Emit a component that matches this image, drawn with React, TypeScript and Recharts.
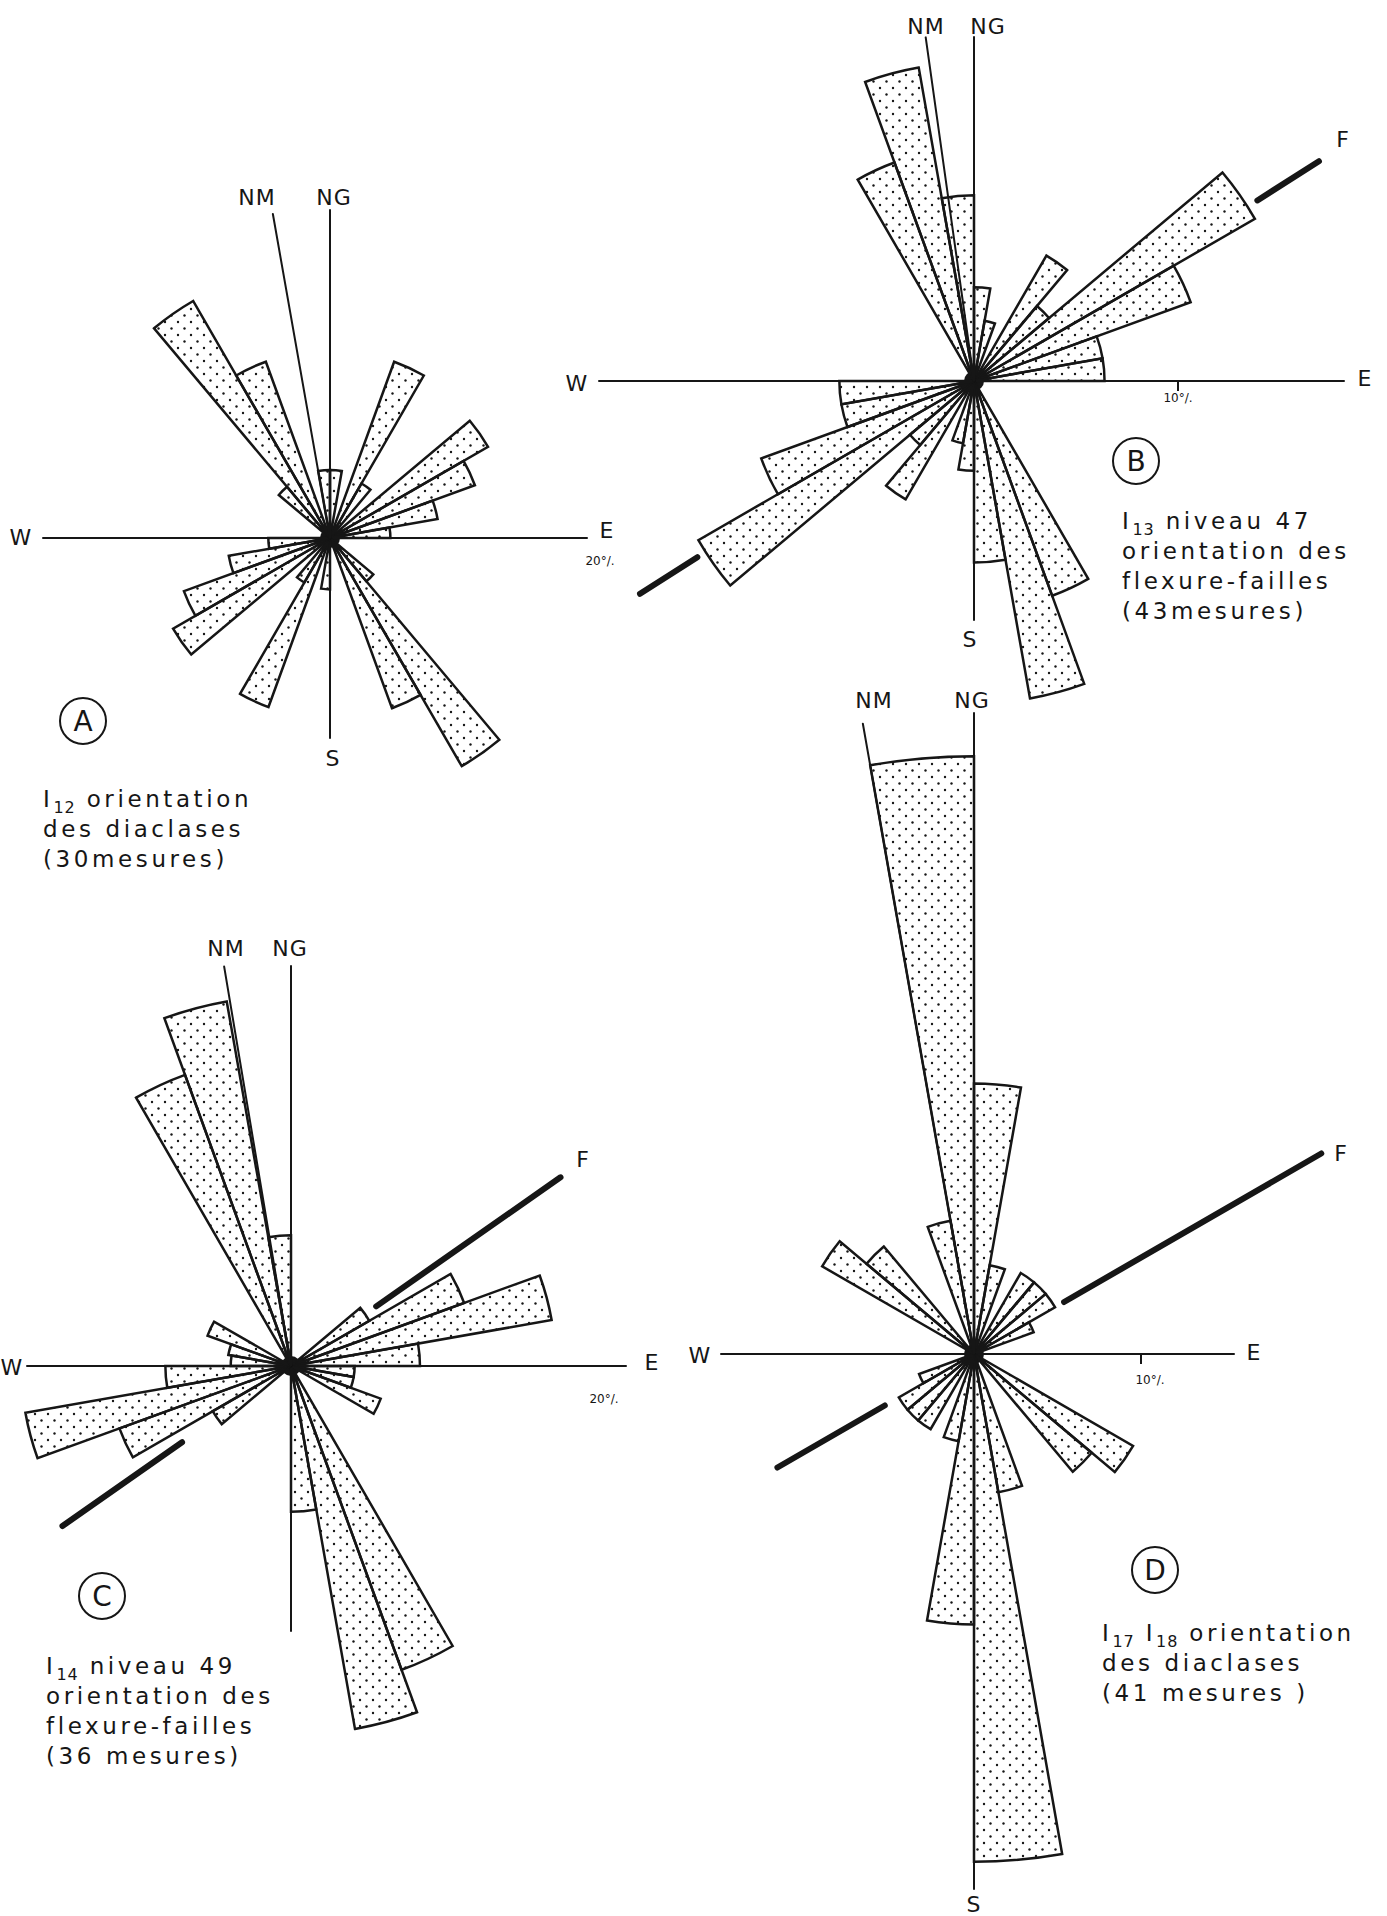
import { RadialBarChart, RadialBar, PolarAngleAxis, PolarRadiusAxis } from "recharts";

const PAGE_W = 1387;
const PAGE_H = 1916;
const MAX_PCT = 40;
const INK = "#161616";
const FONT = "'DejaVu Sans', 'Liberation Sans', sans-serif";

// 10° classes, clockwise from geographic north (NG)
const dirs = [
  "0", "10", "20", "30", "40", "50", "60", "70", "80", "90", "100", "110",
  "120", "130", "140", "150", "160", "170", "180", "190", "200", "210", "220", "230",
  "240", "250", "260", "270", "280", "290", "300", "310", "320", "330", "340", "350",
];

// frequency (%) per class
const roseA = [5.3, 0, 14.6, 4.9, 0, 14.2, 12.0, 8.5, 4.7, 0, 0, 0, 0, 4.4, 20.5, 14.1, 0, 0, 4.0, 0, 14.0, 4.0, 0, 14.1, 12.1, 8.0, 4.8, 0, 0, 0, 0, 5.2, 21.3, 14.6, 0, 5.3];
const roseB = [4.6, 3.0, 0, 7.1, 4.8, 15.9, 11.3, 6.4, 6.4, 0, 0, 0, 0, 0, 0, 11.2, 15.8, 8.9, 4.4, 3.1, 0, 6.7, 4.1, 15.6, 11.1, 6.6, 6.6, 0, 0, 0, 0, 0, 0, 11.4, 15.6, 9.1];
const roseC = [0, 0, 0, 0, 0, 5.4, 11.0, 15.8, 7.7, 3.8, 3.8, 5.7, 0, 0, 0, 19.3, 22.0, 8.7, 0, 0, 0, 0, 0, 5.4, 10.9, 16.1, 7.5, 3.6, 3.8, 5.3, 0, 0, 0, 18.5, 22.1, 7.8];
const roseD = [16.2, 5.4, 0, 5.6, 5.6, 5.6, 3.8, 0, 0, 0, 0, 0, 11.0, 9.2, 0, 0, 8.4, 30.4, 16.2, 5.3, 0, 5.2, 5.2, 5.2, 3.5, 0, 0, 0, 0, 0, 10.5, 8.4, 0, 0, 8.1, 35.8];

type Label = { t: string; x: number; y: number; small?: boolean };
type Fault = { bearing: number; ne: [number, number]; sw: [number, number] };
type RoseCfg = {
  id: string;
  values: number[];
  cx: number;
  cy: number;
  k: number; // px per %
  arms: [number, number, number, number]; // N, E, S, W
  nm: [number, number]; // bearing, length
  fault?: Fault;
  tick?: number; // % mark on the E arm
  labels: Label[];
  badge: { letter: string; x: number; y: number };
  caption: { x: number; y: number; lines: string[] };
};

const roses: RoseCfg[] = [
  {
    id: "a", values: roseA, cx: 330, cy: 538, k: 12.85,
    arms: [328, 257, 200, 287], nm: [350, 329],
    labels: [
      { t: "NM", x: 257, y: 205 }, { t: "NG", x: 334, y: 205 },
      { t: "W", x: 21, y: 545 }, { t: "E", x: 607, y: 538 },
      { t: "20°/.", x: 600, y: 565, small: true }, { t: "S", x: 333, y: 766 },
    ],
    badge: { letter: "A", x: 83, y: 721 },
    caption: { x: 43, y: 807, lines: ["I_{12} orientation", "des diaclases", "(30mesures)"] },
  },
  {
    id: "b", values: roseB, cx: 974, cy: 381, k: 20.4,
    arms: [344, 370, 239, 375], nm: [352, 347],
    fault: { bearing: 57.5, ne: [336, 409], sw: [328, 396] }, tick: 10,
    labels: [
      { t: "NM", x: 926, y: 34 }, { t: "NG", x: 988, y: 34 }, { t: "F", x: 1343, y: 147 },
      { t: "W", x: 577, y: 391 }, { t: "E", x: 1365, y: 386 },
      { t: "10°/.", x: 1178, y: 402, small: true }, { t: "S", x: 970, y: 647 },
    ],
    badge: { letter: "B", x: 1136, y: 461 },
    caption: { x: 1122, y: 529, lines: ["I_{13} niveau 47", "orientation des", "flexure-failles", "(43mesures)"] },
  },
  {
    id: "c", values: roseC, cx: 291, cy: 1366, k: 16.75,
    arms: [400, 335, 265, 264], nm: [350.5, 405],
    fault: { bearing: 55, ne: [104, 329], sw: [133, 279] },
    labels: [
      { t: "NM", x: 226, y: 956 }, { t: "NG", x: 290, y: 956 }, { t: "F", x: 583, y: 1167 },
      { t: "W", x: 12, y: 1375 }, { t: "E", x: 652, y: 1370 },
      { t: "20°/.", x: 604, y: 1403, small: true },
    ],
    badge: { letter: "C", x: 102, y: 1596 },
    caption: { x: 46, y: 1674, lines: ["I_{14} niveau 49", "orientation des", "flexure-failles", "(36 mesures)"] },
  },
  {
    id: "d", values: roseD, cx: 974, cy: 1354, k: 16.7,
    arms: [641, 260, 535, 253], nm: [350, 640],
    fault: { bearing: 60, ne: [104, 401], sw: [103, 227] }, tick: 10,
    labels: [
      { t: "NM", x: 874, y: 708 }, { t: "NG", x: 972, y: 708 }, { t: "F", x: 1341, y: 1161 },
      { t: "W", x: 700, y: 1363 }, { t: "E", x: 1254, y: 1360 },
      { t: "10°/.", x: 1150, y: 1384, small: true }, { t: "S", x: 974, y: 1912 },
    ],
    badge: { letter: "D", x: 1155, y: 1570 },
    caption: { x: 1102, y: 1641, lines: ["I_{17} I_{18} orientation", "des diaclases", "(41 mesures )"] },
  },
];

function CaptionLine({ text, x, y }: { text: string; x: number; y: number }) {
  const parts = text.split(/(_\{[^}]*\})/).filter(Boolean);
  return (
    <text x={x} y={y} fontFamily={FONT} fontSize={23} letterSpacing={3.6} fill={INK}>
      {parts.map((p, i) =>
        p.startsWith("_{") ? (
          <tspan key={i} fontSize={16} letterSpacing={1} dy={6}>{p.slice(2, -1)}</tspan>
        ) : (
          <tspan key={i} dy={i > 0 && parts[i - 1].startsWith("_{") ? -6 : 0}>{p}</tspan>
        )
      )}
    </text>
  );
}

function Rose({ cfg }: { cfg: RoseCfg }) {
  const data = dirs.map((dir, i) => ({ dir, pct: cfg.values[i] }));
  const at = (bearing: number, r: number) => {
    const a = (bearing * Math.PI) / 180;
    return { x: cfg.cx + r * Math.sin(a), y: cfg.cy - r * Math.cos(a) };
  };
  const seg = (bearing: number, r0: number, r1: number, w: number, key: string) => {
    const p = at(bearing, r0);
    const q = at(bearing, r1);
    return <line key={key} x1={p.x} y1={p.y} x2={q.x} y2={q.y} stroke={INK} strokeWidth={w} strokeLinecap="round" />;
  };
  const tickX = cfg.tick ? cfg.cx + cfg.tick * cfg.k : 0;

  return (
    <div style={{ position: "absolute", left: 0, top: 0 }}>
      {/* band scale puts class "0" on 80°..90° (i.e. bearing 0–10°) with this range */}
      <RadialBarChart
        width={PAGE_W} height={PAGE_H} data={data} layout="centric"
        cx={cfg.cx} cy={cfg.cy} innerRadius={0} outerRadius={MAX_PCT * cfg.k}
        startAngle={80} endAngle={-280} barCategoryGap={0} barGap={0}
        margin={{ top: 0, right: 0, bottom: 0, left: 0 }}
      >
        <defs>
          <pattern id={`dots-${cfg.id}`} width={13} height={13} patternUnits="userSpaceOnUse">
            <circle cx={2.5} cy={3.5} r={1.2} fill={INK} />
            <circle cx={9} cy={10} r={1.2} fill={INK} />
          </pattern>
        </defs>
        <PolarAngleAxis type="category" dataKey="dir" tick={false} axisLine={false} tickLine={false} />
        <PolarRadiusAxis type="number" domain={[0, MAX_PCT]} tick={false} axisLine={false} tickLine={false} />
        {seg(0, 0, cfg.arms[0], 2, "n")}
        {seg(90, 0, cfg.arms[1], 2, "e")}
        {seg(180, 0, cfg.arms[2], 2, "s")}
        {seg(270, 0, cfg.arms[3], 2, "w")}
        {seg(cfg.nm[0], 0, cfg.nm[1], 2, "nm")}
        <RadialBar dataKey="pct" fill={`url(#dots-${cfg.id})`} stroke={INK} strokeWidth={2.5} isAnimationActive={false} />
        {cfg.fault && seg(cfg.fault.bearing, cfg.fault.ne[0], cfg.fault.ne[1], 6, "fne")}
        {cfg.fault && seg(cfg.fault.bearing + 180, cfg.fault.sw[0], cfg.fault.sw[1], 6, "fsw")}
        {cfg.tick && <line x1={tickX} y1={cfg.cy} x2={tickX} y2={cfg.cy + 10} stroke={INK} strokeWidth={2} />}
        <circle cx={cfg.cx} cy={cfg.cy} r={10} fill={INK} />
        {cfg.labels.map((l) => (
          <text key={l.t} x={l.x} y={l.y} textAnchor="middle" fontFamily={FONT}
            fontSize={l.small ? 12 : 22} letterSpacing={l.small ? 0 : 1} fill={INK}>
            {l.t}
          </text>
        ))}
        <circle cx={cfg.badge.x} cy={cfg.badge.y} r={23} fill="none" stroke={INK} strokeWidth={2} />
        <text x={cfg.badge.x} y={cfg.badge.y + 10} textAnchor="middle" fontFamily={FONT} fontSize={28} fill={INK}>
          {cfg.badge.letter}
        </text>
        {cfg.caption.lines.map((line, i) => (
          <CaptionLine key={i} text={line} x={cfg.caption.x} y={cfg.caption.y + i * 30} />
        ))}
      </RadialBarChart>
    </div>
  );
}

export default function App() {
  return (
    <div style={{ position: "absolute", left: 0, top: 0, width: PAGE_W, height: PAGE_H, background: "#fff", overflow: "hidden" }}>
      {roses.map((r) => (
        <Rose key={r.id} cfg={r} />
      ))}
    </div>
  );
}
